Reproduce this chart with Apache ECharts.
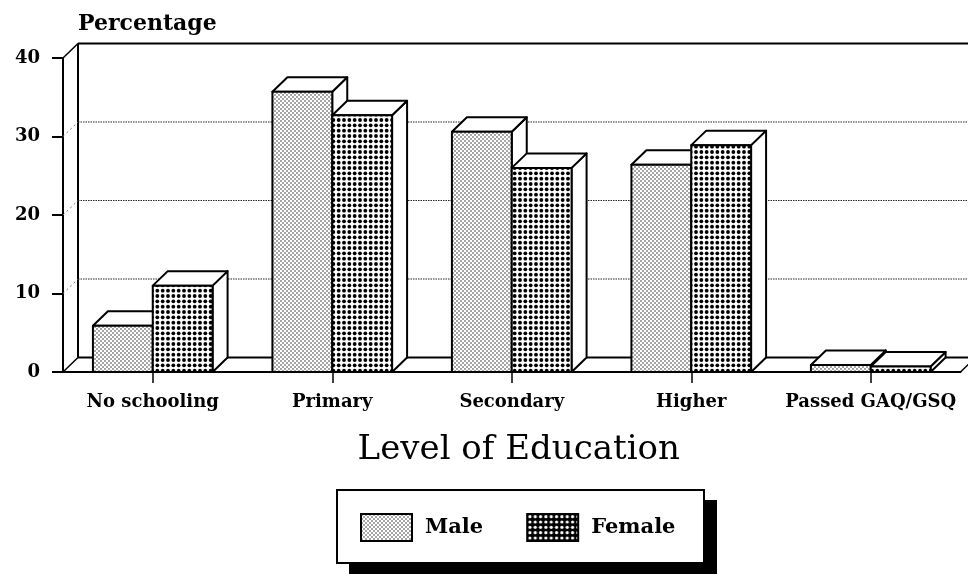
<!DOCTYPE html>
<html>
<head>
<meta charset="utf-8">
<style>html,body{margin:0;padding:0;background:#fff}#c{width:968px;height:574px}</style>
<script src="https://cdn.jsdelivr.net/npm/echarts@6/dist/echarts.min.js"></script>
</head>
<body>
<div id="c"></div>
<script>
const categories = ['No schooling', 'Primary', 'Secondary', 'Higher', 'Passed GAQ/GSQ'];
const maleValues = [5.9, 35.7, 30.6, 26.4, 0.9];
const femaleValues = [11.0, 32.7, 26.0, 28.9, 0.7];
const yTicks = [0, 10, 20, 30, 40];

const DEPTH_X = 15, DEPTH_Y = 14.5, BAR_FRAC = 1 / 3, FAR = 1100;
const FONT = 'DejaVu Serif';

function makePattern(size, bg, fg, dots, r) {
  const c = document.createElement('canvas');
  c.width = c.height = size;
  const g = c.getContext('2d');
  g.fillStyle = bg; g.fillRect(0, 0, size, size);
  g.fillStyle = fg;
  dots.forEach(d => { g.beginPath(); g.arc(d[0], d[1], r, 0, Math.PI * 2); g.fill(); });
  return { image: c, repeat: 'repeat' };
}
function gridDots(n, step, off) {
  const a = [];
  for (let i = 0; i < n; i++) for (let j = 0; j < n; j++) a.push([off + i * step, off + j * step]);
  return a;
}
const malePattern = makePattern(4, '#fff', '#222', [[1, 1], [3, 3]], 0.75);
const femalePattern = makePattern(16, '#fff', '#000', gridDots(3, 16 / 3, 2.67), 1.9);
const femaleLegendPattern = makePattern(16, '#000', '#fff', gridDots(3, 16 / 3, 2.67), 1.6);

function barRender(offsetSign, pattern) {
  return function (params, api) {
    const idx = api.value(0), v = api.value(1);
    const band = api.size([1, 0])[0];
    const w = band * BAR_FRAC;
    const base = api.coord([idx, 0]);
    const top = api.coord([idx, v]);
    const x0 = base[0] + (offsetSign < 0 ? -w : 0), x1 = x0 + w;
    const y0 = top[1], y1 = base[1];
    const line = { stroke: '#000', lineWidth: 2, lineJoin: 'round' };
    return {
      type: 'group',
      children: [
        { type: 'polygon', shape: { points: [[x1, y0], [x1 + DEPTH_X, y0 - DEPTH_Y], [x1 + DEPTH_X, y1 - DEPTH_Y], [x1, y1]] }, style: Object.assign({ fill: '#fff' }, line) },
        { type: 'polygon', shape: { points: [[x0, y0], [x0 + DEPTH_X, y0 - DEPTH_Y], [x1 + DEPTH_X, y0 - DEPTH_Y], [x1, y0]] }, style: Object.assign({ fill: '#fff' }, line) },
        { type: 'rect', shape: { x: x0, y: y0, width: w, height: y1 - y0 }, style: Object.assign({ fill: pattern }, line) }
      ]
    };
  };
}

function wallRender(params, api) {
  const t = api.value(0);
  const p = api.coord([0, t]);
  const x = p[0] - api.size([1, 0])[0] / 2, y = p[1];
  const bx = x + DEPTH_X, by = y - DEPTH_Y;
  const solid = t === 0 || t === yTicks[yTicks.length - 1];
  const children = [
    { type: 'line', shape: { x1: bx, y1: by, x2: bx + FAR, y2: by },
      style: solid ? { stroke: '#000', lineWidth: 2 } : { stroke: '#222', lineWidth: 1, lineDash: [1.5, 1] } },
    { type: 'line', shape: { x1: x, y1: y, x2: bx, y2: by },
      style: solid ? { stroke: '#000', lineWidth: 1.5 } : { stroke: '#777', lineWidth: 1, lineDash: [2, 3] } }
  ];
  if (t === 0) {
    const end = api.coord([categories.length - 1, 0])[0] + api.size([1, 0])[0] / 2;
    children.push({ type: 'line', shape: { x1: bx, y1: by, x2: bx, y2: api.coord([0, yTicks[yTicks.length - 1]])[1] - DEPTH_Y }, style: { stroke: '#000', lineWidth: 2 } });
    children.push({ type: 'line', shape: { x1: end, y1: y, x2: end + DEPTH_X, y2: by }, style: { stroke: '#000', lineWidth: 1.5 } });
  }
  return { type: 'group', children };
}

const chart = echarts.init(document.getElementById('c'), null, { renderer: 'canvas' });
chart.setOption({
  animation: false,
  backgroundColor: '#fff',
  grid: { left: 63, top: 58, width: 897.5, height: 314 },
  graphic: [
    { type: 'rect', z: 1, silent: true, shape: { x: 349, y: 500, width: 368, height: 74 }, style: { fill: '#000' } },
    { type: 'rect', z: 2, silent: true, shape: { x: 337, y: 490, width: 367, height: 73 }, style: { fill: '#fff', stroke: '#000', lineWidth: 2 } }
  ],
  xAxis: {
    type: 'category', data: categories,
    z: 6,
    axisLine: { lineStyle: { color: '#000', width: 2 } },
    axisTick: { show: true, alignWithLabel: true, length: 11, lineStyle: { color: '#000', width: 1.5 } },
    axisLabel: { margin: 21, interval: 0, color: '#000', fontFamily: FONT, fontWeight: 'bold', fontSize: 18 },
    name: 'Level of Education', nameLocation: 'middle', nameGap: 61,
    nameTextStyle: { color: '#000', fontFamily: FONT, fontSize: 34, padding: [0, 0, 0, 14] }
  },
  yAxis: {
    type: 'value', min: 0, max: 40, interval: 10,
    splitLine: { show: false },
    axisLine: { show: true, lineStyle: { color: '#000', width: 2 } },
    axisTick: { show: true, length: 11, lineStyle: { color: '#000', width: 2 } },
    axisLabel: { margin: 23, color: '#000', fontFamily: FONT, fontWeight: 'bold', fontSize: 18, padding: [3, 0, 0, 0] },
    name: 'Percentage', nameLocation: 'end', nameGap: 23,
    nameTextStyle: { color: '#000', fontFamily: FONT, fontWeight: 'bold', fontSize: 22, align: 'left', padding: [0, 0, 0, 15] }
  },
  legend: {
    left: 360, top: 513, orient: 'horizontal', z: 5,
    padding: 0, itemGap: 43, itemWidth: 51, itemHeight: 27,
    textStyle: { color: '#000', fontFamily: FONT, fontWeight: 'bold', fontSize: 21, padding: [0, 0, 0, 8] },
    selectedMode: false,
    data: [
      { name: 'Male', icon: 'rect', itemStyle: { color: malePattern, borderColor: '#000', borderWidth: 2 } },
      { name: 'Female', icon: 'rect', itemStyle: { color: femaleLegendPattern, borderColor: '#000', borderWidth: 2 } }
    ]
  },
  series: [
    { type: 'custom', name: 'walls', silent: true, z: 1, renderItem: wallRender,
      encode: { y: 0 }, data: yTicks.map(t => [t]) },
    { type: 'custom', name: 'Male', z: 3, renderItem: barRender(-1, malePattern),
      itemStyle: { color: malePattern }, encode: { x: 0, y: 1 },
      data: maleValues.map((v, i) => [i, v]) },
    { type: 'custom', name: 'Female', z: 4, renderItem: barRender(1, femalePattern),
      itemStyle: { color: femaleLegendPattern }, encode: { x: 0, y: 1 },
      data: femaleValues.map((v, i) => [i, v]) }
  ]
});
</script>
</body>
</html>
